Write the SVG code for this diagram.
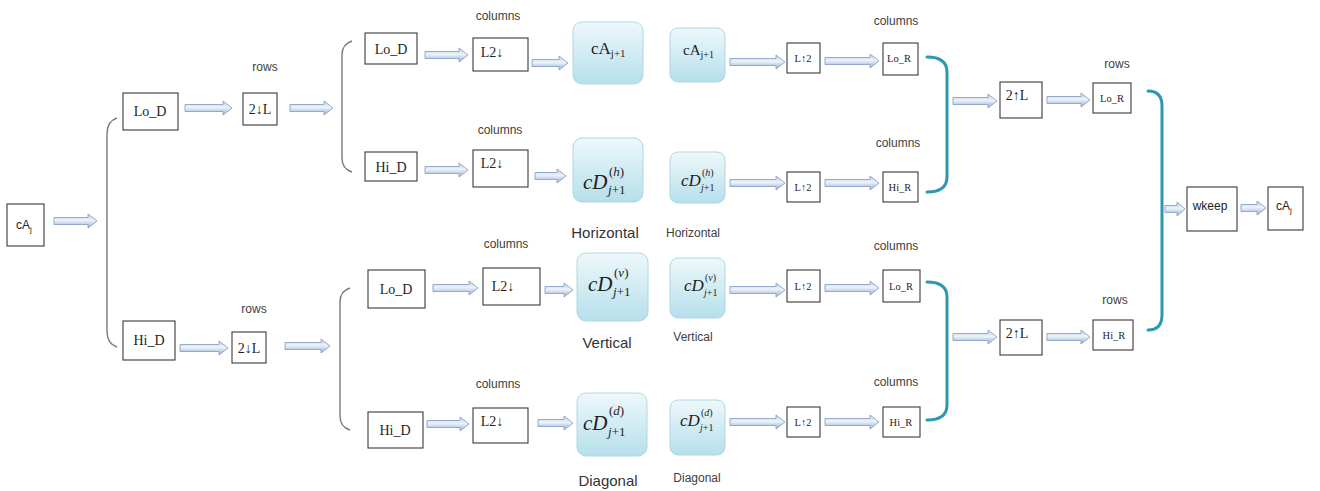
<svg xmlns="http://www.w3.org/2000/svg" width="1320" height="491" viewBox="0 0 1320 491">
  <defs>
    <linearGradient id="arrowFill" x1="0" y1="0" x2="0" y2="1">
      <stop offset="0" stop-color="#b9cce4"/>
      <stop offset="0.45" stop-color="#eef3fa"/>
      <stop offset="1" stop-color="#92add2"/>
    </linearGradient>
    <linearGradient id="coefFill" x1="0" y1="0" x2="0" y2="1">
      <stop offset="0" stop-color="#eef8fb"/>
      <stop offset="1" stop-color="#b6dfeb"/>
    </linearGradient>
    <style>
      .box { fill: #ffffff; stroke: #3a3a3a; stroke-width: 1.1; }
      .coef { fill: url(#coefFill); stroke: #b0d6e2; stroke-width: 1; }
      .arr { fill: url(#arrowFill); stroke: #8aa4c6; stroke-width: 0.9; }
      .brk { fill: none; stroke: #7a7a7a; stroke-width: 1.4; }
      .tbrk { fill: none; stroke: #2e98b4; stroke-width: 3; stroke-linecap: round; }
      .lbl { font-family: "Liberation Serif", "Times New Roman", serif; font-size: 14px; fill: #1e1e1e; text-anchor: middle; }
      .sm { font-family: "Liberation Serif", "Times New Roman", serif; font-size: 10.5px; fill: #1e1e1e; text-anchor: middle; }
      .note { font-family: "Liberation Sans", Arial, sans-serif; font-size: 12px; fill: #404040; text-anchor: middle; }
      .cap { font-family: "Liberation Sans", Arial, sans-serif; font-size: 15px; fill: #333333; text-anchor: middle; }
      .cap2 { font-family: "Liberation Sans", Arial, sans-serif; font-size: 12px; fill: #404040; text-anchor: middle; }
      .ss { font-family: "Liberation Sans", Arial, sans-serif; font-size: 12px; fill: #222222; text-anchor: middle; }
      .math { font-family: "Liberation Serif", "Times New Roman", serif; fill: #1e1e1e; }
    </style>
  </defs>

  <!-- block arrows between stages -->
  <g id="connectors">
    <path class="arr" d="M54,217.5 H88 V214 L97,221 L88,228 V224.5 H54 Z"/>
    <path class="arr" d="M185,104.5 H223 V101 L232,108 L223,115 V111.5 H185 Z"/>
    <path class="arr" d="M290,104.5 H324 V101 L333,108 L324,115 V111.5 H290 Z"/>
    <path class="arr" d="M180,344.5 H219 V341 L228,348 L219,355 V351.5 H180 Z"/>
    <path class="arr" d="M285,342.5 H321 V339 L330,346 L321,353 V349.5 H285 Z"/>
    <path class="arr" d="M425,51.5 H459 V48 L468,55 L459,62 V58.5 H425 Z"/>
    <path class="arr" d="M532,59.5 H559 V56 L568,63 L559,70 V66.5 H532 Z"/>
    <path class="arr" d="M425,166.5 H459 V163 L468,170 L459,177 V173.5 H425 Z"/>
    <path class="arr" d="M535,172.5 H557 V169 L566,176 L557,183 V179.5 H535 Z"/>
    <path class="arr" d="M730,58.5 H776 V55 L785,62 L776,69 V65.5 H730 Z"/>
    <path class="arr" d="M825,57.5 H870 V54 L879,61 L870,68 V64.5 H825 Z"/>
    <path class="arr" d="M730,179.5 H776 V176 L785,183 L776,190 V186.5 H730 Z"/>
    <path class="arr" d="M825,179.5 H870 V176 L879,183 L870,190 V186.5 H825 Z"/>
    <path class="arr" d="M953,97.5 H988 V94 L997,101 L988,108 V104.5 H953 Z"/>
    <path class="arr" d="M1047,96.5 H1081 V93 L1090,100 L1081,107 V103.5 H1047 Z"/>
    <path class="arr" d="M433,284.5 H469 V281 L478,288 L469,295 V291.5 H433 Z"/>
    <path class="arr" d="M545,286.5 H564 V283 L573,290 L564,297 V293.5 H545 Z"/>
    <path class="arr" d="M427,420.5 H460 V417 L469,424 L460,431 V427.5 H427 Z"/>
    <path class="arr" d="M538,419.5 H564 V416 L573,423 L564,430 V426.5 H538 Z"/>
    <path class="arr" d="M730,286.5 H776 V283 L785,290 L776,297 V293.5 H730 Z"/>
    <path class="arr" d="M825,284.5 H870 V281 L879,288 L870,295 V291.5 H825 Z"/>
    <path class="arr" d="M730,418.5 H776 V415 L785,422 L776,429 V425.5 H730 Z"/>
    <path class="arr" d="M825,418.5 H870 V415 L879,422 L870,429 V425.5 H825 Z"/>
    <path class="arr" d="M953,333.5 H988 V330 L997,337 L988,344 V340.5 H953 Z"/>
    <path class="arr" d="M1047,333.5 H1081 V330 L1090,337 L1081,344 V340.5 H1047 Z"/>
    <path class="arr" d="M1165,205.5 H1177 V202 L1185,209 L1177,216 V212.5 H1165 Z"/>
    <path class="arr" d="M1241,204.5 H1257 V201 L1266,208 L1257,215 V211.5 H1241 Z"/>

    <!-- splitting brackets (analysis) -->
    <path class="brk" d="M117,118 Q107,121 107,134 V331 Q107,344 117,347"/>
    <path class="brk" d="M352,41 Q342,44 342,55 V158 Q342,169 352,172"/>
    <path class="brk" d="M350,288 Q340,291 340,302 V416 Q340,427 350,430"/>

    <!-- merging brackets (synthesis) -->
    <path class="tbrk" d="M927,57 Q947,57 947,72 V177 Q947,192 927,192"/>
    <path class="tbrk" d="M927,282 Q947,282 947,297 V405 Q947,420 927,420"/>
    <path class="tbrk" d="M1148,91 Q1162,91 1162,106 V315 Q1162,330 1148,330"/>
  </g>

  <!-- input -->
  <g id="cAj-in">
    <rect class="box" x="7" y="204" width="37" height="42"/>
    <text class="ss" x="24" y="229">cA<tspan font-size="8" dy="3">j</tspan></text>
  </g>

  <!-- row filtering -->
  <g id="LoD-row">
    <rect class="box" x="123" y="93" width="55" height="37"/>
    <text class="lbl" x="150" y="116">Lo_D</text>
  </g>
  <g id="down-row-lo">
    <rect class="box" x="243" y="93" width="34" height="32"/>
    <text class="lbl" x="260" y="114">2↓L</text>
    <text class="note" x="265" y="71">rows</text>
  </g>
  <g id="HiD-row">
    <rect class="box" x="123" y="321" width="52" height="39"/>
    <text class="lbl" x="149" y="345">Hi_D</text>
  </g>
  <g id="down-row-hi">
    <rect class="box" x="232" y="332" width="34" height="31"/>
    <text class="lbl" x="249" y="353">2↓L</text>
    <text class="note" x="254" y="313">rows</text>
  </g>

  <!-- column filtering, approximation branch -->
  <g id="LoD-col-a">
    <rect class="box" x="365" y="33" width="52" height="31"/>
    <text class="lbl" x="391" y="54">Lo_D</text>
  </g>
  <g id="down-col-a">
    <rect class="box" x="473" y="38" width="55" height="33"/>
    <text class="lbl" x="492" y="57">L2↓</text>
    <text class="note" x="498" y="20">columns</text>
  </g>
  <g id="cA-next">
    <rect class="coef" x="573" y="22" width="70" height="62" rx="9"/>
    <text class="math" x="591" y="54" font-size="17">cA<tspan font-size="11" dy="3">j+1</tspan></text>
  </g>
  <g id="HiD-col-h">
    <rect class="box" x="365" y="152" width="52" height="29"/>
    <text class="lbl" x="391" y="172">Hi_D</text>
  </g>
  <g id="down-col-h">
    <rect class="box" x="473" y="150" width="55" height="37"/>
    <text class="lbl" x="492" y="168">L2↓</text>
    <text class="note" x="500" y="134">columns</text>
  </g>
  <g id="cD-h">
    <rect class="coef" x="573" y="138" width="70" height="64" rx="9"/>
    <text class="math" x="583" y="189" font-size="21" font-style="italic">cD</text>
    <text class="math" x="609" y="176" font-size="13">(<tspan font-style="italic">h</tspan>)</text>
    <text class="math" x="608" y="194" font-size="13"><tspan font-style="italic">j</tspan>+1</text>
    <text class="cap" x="605" y="238">Horizontal</text>
  </g>

  <!-- column filtering, detail branch -->
  <g id="LoD-col-v">
    <rect class="box" x="368" y="270" width="57" height="38"/>
    <text class="lbl" x="396" y="294">Lo_D</text>
  </g>
  <g id="down-col-v">
    <rect class="box" x="483" y="268" width="57" height="37"/>
    <text class="lbl" x="503" y="291">L2↓</text>
    <text class="note" x="506" y="248">columns</text>
  </g>
  <g id="cD-v">
    <rect class="coef" x="577" y="253" width="71" height="68" rx="9"/>
    <text class="math" x="588" y="291" font-size="21" font-style="italic">cD</text>
    <text class="math" x="614" y="277" font-size="13">(<tspan font-style="italic">v</tspan>)</text>
    <text class="math" x="613" y="296" font-size="13"><tspan font-style="italic">j</tspan>+1</text>
    <text class="cap" x="607" y="348">Vertical</text>
  </g>
  <g id="HiD-col-d">
    <rect class="box" x="368" y="412" width="55" height="36"/>
    <text class="lbl" x="395" y="435">Hi_D</text>
  </g>
  <g id="down-col-d">
    <rect class="box" x="473" y="408" width="55" height="35"/>
    <text class="lbl" x="492" y="426">L2↓</text>
    <text class="note" x="498" y="388">columns</text>
  </g>
  <g id="cD-d">
    <rect class="coef" x="577" y="393" width="70" height="63" rx="9"/>
    <text class="math" x="583" y="430" font-size="21" font-style="italic">cD</text>
    <text class="math" x="609" y="415" font-size="13">(<tspan font-style="italic">d</tspan>)</text>
    <text class="math" x="608" y="436" font-size="13"><tspan font-style="italic">j</tspan>+1</text>
    <text class="cap" x="608" y="486">Diagonal</text>
  </g>

  <!-- reconstruction inputs -->
  <g id="cA-rec">
    <rect class="coef" x="670" y="28" width="55" height="54" rx="8"/>
    <text class="math" x="683" y="55" font-size="15">cA<tspan font-size="10" dy="3">j+1</tspan></text>
  </g>
  <g id="cD-h-rec">
    <rect class="coef" x="670" y="152" width="55" height="51" rx="8"/>
    <text class="math" x="681" y="186" font-size="17" font-style="italic">cD</text>
    <text class="math" x="702" y="176" font-size="10">(<tspan font-style="italic">h</tspan>)</text>
    <text class="math" x="701" y="191" font-size="10"><tspan font-style="italic">j</tspan>+1</text>
    <text class="cap2" x="693" y="237">Horizontal</text>
  </g>
  <g id="cD-v-rec">
    <rect class="coef" x="670" y="258" width="55" height="60" rx="8"/>
    <text class="math" x="684" y="291" font-size="17" font-style="italic">cD</text>
    <text class="math" x="705" y="281" font-size="10">(<tspan font-style="italic">v</tspan>)</text>
    <text class="math" x="704" y="296" font-size="10"><tspan font-style="italic">j</tspan>+1</text>
    <text class="cap2" x="693" y="341">Vertical</text>
  </g>
  <g id="cD-d-rec">
    <rect class="coef" x="670" y="400" width="55" height="55" rx="8"/>
    <text class="math" x="680" y="426" font-size="17" font-style="italic">cD</text>
    <text class="math" x="701" y="416" font-size="10">(<tspan font-style="italic">d</tspan>)</text>
    <text class="math" x="700" y="431" font-size="10"><tspan font-style="italic">j</tspan>+1</text>
    <text class="cap2" x="697" y="482">Diagonal</text>
  </g>

  <!-- column upsampling and reconstruction filters -->
  <g id="up-col-a">
    <rect class="box" x="787" y="43" width="33" height="30"/>
    <text class="sm" x="803" y="62">L↑2</text>
  </g>
  <g id="LoR-col-a">
    <rect class="box" x="883" y="43" width="35" height="32"/>
    <text class="sm" x="899" y="62">Lo_R</text>
    <text class="note" x="896" y="25">columns</text>
  </g>
  <g id="up-col-h">
    <rect class="box" x="787" y="172" width="33" height="30"/>
    <text class="sm" x="803" y="191">L↑2</text>
  </g>
  <g id="HiR-col-h">
    <rect class="box" x="883" y="172" width="35" height="30"/>
    <text class="sm" x="900" y="191">Hi_R</text>
    <text class="note" x="898" y="147">columns</text>
  </g>
  <g id="up-col-v">
    <rect class="box" x="787" y="270" width="33" height="32"/>
    <text class="sm" x="803" y="290">L↑2</text>
  </g>
  <g id="LoR-col-v">
    <rect class="box" x="883" y="270" width="37" height="32"/>
    <text class="sm" x="901" y="290">Lo_R</text>
    <text class="note" x="896" y="250">columns</text>
  </g>
  <g id="up-col-d">
    <rect class="box" x="787" y="407" width="33" height="30"/>
    <text class="sm" x="803" y="426">L↑2</text>
  </g>
  <g id="HiR-col-d">
    <rect class="box" x="883" y="407" width="37" height="30"/>
    <text class="sm" x="901" y="426">Hi_R</text>
    <text class="note" x="896" y="386">columns</text>
  </g>

  <!-- row upsampling and reconstruction filters -->
  <g id="up-row-lo">
    <rect class="box" x="1000" y="82" width="42" height="36"/>
    <text class="lbl" x="1017" y="100">2↑L</text>
  </g>
  <g id="LoR-row">
    <rect class="box" x="1093" y="83" width="38" height="30"/>
    <text class="sm" x="1112" y="102">Lo_R</text>
    <text class="note" x="1117" y="68">rows</text>
  </g>
  <g id="up-row-hi">
    <rect class="box" x="1000" y="320" width="42" height="35"/>
    <text class="lbl" x="1017" y="338">2↑L</text>
  </g>
  <g id="HiR-row">
    <rect class="box" x="1093" y="320" width="40" height="30"/>
    <text class="sm" x="1114" y="339">Hi_R</text>
    <text class="note" x="1115" y="304">rows</text>
  </g>

  <!-- output -->
  <g id="wkeep">
    <rect class="box" x="1187" y="187" width="50" height="44"/>
    <text class="ss" x="1210" y="210">wkeep</text>
  </g>
  <g id="cAj-out">
    <rect class="box" x="1268" y="187" width="35" height="43"/>
    <text class="ss" x="1284" y="210">cA<tspan font-size="8" dy="3">j</tspan></text>
  </g>
</svg>
